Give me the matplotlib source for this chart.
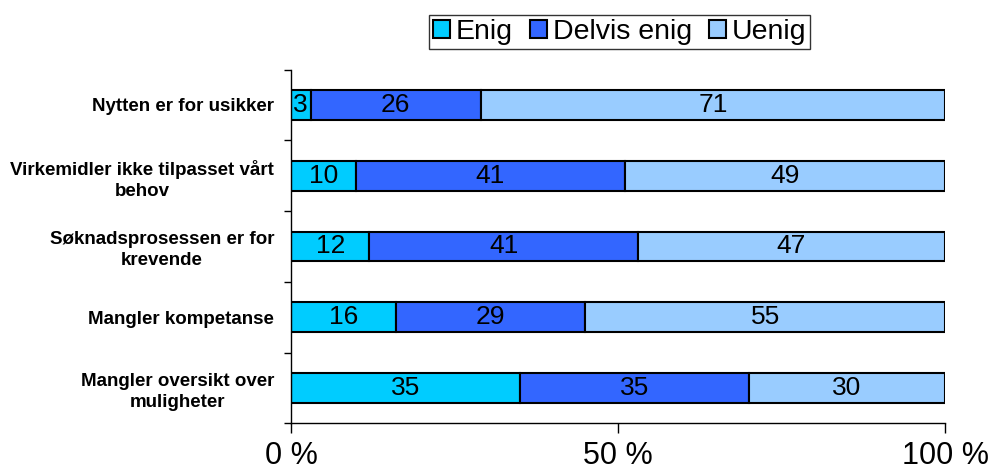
import numpy as np
import matplotlib.pyplot as plt
from matplotlib.ticker import FixedLocator

plt.rcParams['font.family'] = ['Liberation Sans', 'DejaVu Sans']

# data, top to bottom as in the chart
categories = ["Nytten er for usikker",
              "Virkemidler ikke tilpasset vårt\nbehov",
              "Søknadsprosessen er for\nkrevende",
              "Mangler kompetanse",
              "Mangler oversikt over\nmuligheter"]
enig = [3, 10, 12, 16, 35]
delvis = [26, 41, 41, 29, 35]
uenig = [71, 49, 47, 55, 30]
series_names = ["Enig", "Delvis enig", "Uenig"]
colors = ["#00CCFF", "#3366FF", "#99CCFF"]

fig = plt.figure(figsize=(9.93, 4.73), dpi=100)
ax = fig.add_axes([0.293, 0.105, 0.6587, 0.748])

n = len(categories)
y = np.arange(n)[::-1]
left = np.zeros(n)
for vals, name, col in zip([enig, delvis, uenig], series_names, colors):
    vals = np.array(vals, dtype=float)
    ax.barh(y, vals, left=left, height=0.42, color=col,
            edgecolor="black", linewidth=1.5, label=name)
    for yy, l, v in zip(y, left, vals):
        ax.text(l + v / 2, yy, "%d" % v, ha="center", va="center",
                fontsize=19, color="black")
    left += vals

ax.set_xlim(0, 100)
ax.set_ylim(-0.5, n - 0.5)

# x axis
ax.set_xticks([0, 50, 100])
ax.set_xticklabels(["0 %", "50 %", "100 %"], fontsize=22)
ax.tick_params(axis="x", direction="out", length=7, width=1, pad=6)

# y axis: ticks between categories, labels at centers
ax.yaxis.set_major_locator(FixedLocator(np.arange(-0.5, n, 1.0)))
ax.set_yticklabels([])
ax.yaxis.set_minor_locator(FixedLocator(y))
ax.set_yticklabels(categories, minor=True, fontsize=13.5,
                   fontweight="bold", ha="right", multialignment="center",
                   linespacing=1.3)
ax.tick_params(axis="y", which="major", direction="out", length=5, width=1)
ax.tick_params(axis="y", which="minor", length=0, pad=12)

for s in ["top", "right"]:
    ax.spines[s].set_visible(False)
ax.spines["left"].set_linewidth(1)
ax.spines["bottom"].set_linewidth(1)

leg = fig.legend(loc="center", bbox_to_anchor=(0.624, 0.932), ncol=3,
                 fontsize=20.5, frameon=True, fancybox=False, shadow=False,
                 handlelength=0.6, handleheight=0.6, handletextpad=0.2,
                 columnspacing=0.6, borderpad=0.15, borderaxespad=0)
leg.get_frame().set_edgecolor("black")
leg.get_frame().set_linewidth(1)

fig.savefig("out.png", dpi=100)
